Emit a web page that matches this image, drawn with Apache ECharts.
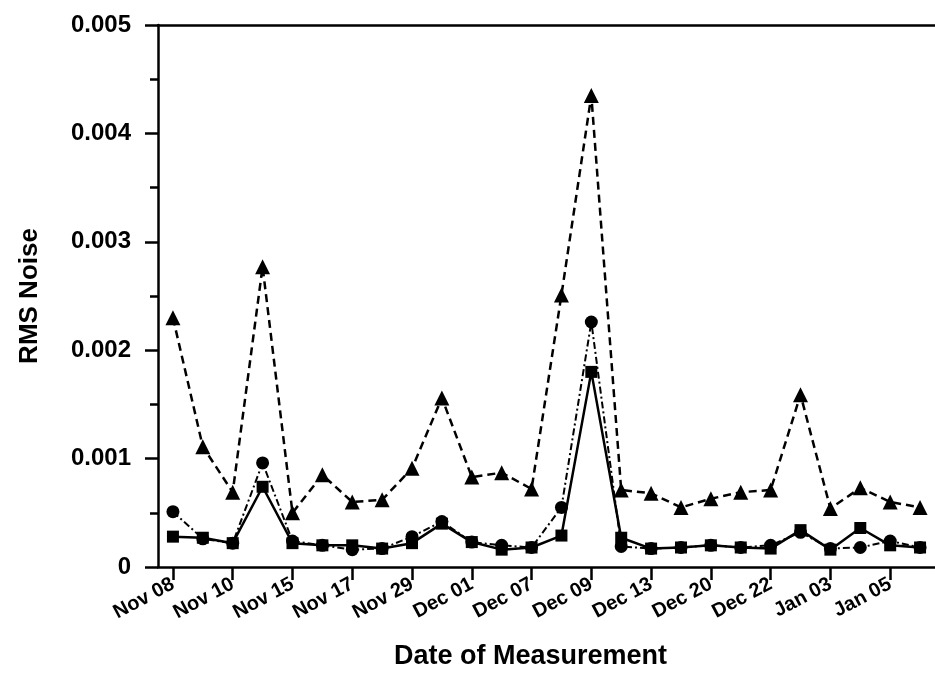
<!DOCTYPE html>
<html>
<head>
<meta charset="utf-8">
<script src="https://cdn.jsdelivr.net/npm/echarts@6/dist/echarts.min.js"></script>
<style>
  html, body { margin: 0; padding: 0; background: #fff; }
  #chart { width: 935px; height: 691px; }
</style>
</head>
<body>
<div id="chart"></div>
<script>
const categories = ['Nov 08','','Nov 10','','Nov 15','','Nov 17','','Nov 29','','Dec 01','','Dec 07','','Dec 09','','Dec 13','','Dec 20','','Dec 22','','Jan 03','','Jan 05',''];
const triangleSeries = [0.00230,0.00111,0.00069,0.00277,0.00050,0.00085,0.00060,0.00062,0.00091,0.00156,0.00083,0.00087,0.00072,0.00251,0.00435,0.00071,0.00068,0.00055,0.00063,0.00069,0.00071,0.00159,0.00054,0.00073,0.00060,0.00055];
const circleSeries = [0.00051,0.00026,0.00022,0.00096,0.00024,0.00020,0.00016,0.00017,0.00028,0.00042,0.00023,0.00020,0.00018,0.00055,0.00226,0.00019,0.00017,0.00018,0.00020,0.00018,0.00020,0.00032,0.00017,0.00018,0.00024,0.00018];
const squareSeries = [0.00028,0.00027,0.00022,0.00074,0.00022,0.00020,0.00020,0.00017,0.00022,0.00040,0.00023,0.00016,0.00018,0.00029,0.00180,0.00027,0.00017,0.00018,0.00020,0.00018,0.00017,0.00034,0.00016,0.00036,0.00020,0.00018];
const yTicks = [0, 0.001, 0.002, 0.003, 0.004, 0.005];

const FONT = 'Liberation Sans';
const chart = echarts.init(document.getElementById('chart'), null, { renderer: 'canvas' });
chart.setOption({
  backgroundColor: '#ffffff',
  animation: false,
  grid: { left: 158, right: 0, top: 25, bottom: 124, containLabel: false },
  xAxis: [{
    type: 'category',
    data: categories,
    boundaryGap: true,
    name: 'Date of Measurement',
    nameLocation: 'middle',
    nameGap: 76,
    nameTextStyle: { fontFamily: FONT, fontWeight: 'bold', fontSize: 27, color: '#000', padding: [0, 32, 0, 0] },
    axisLine: { lineStyle: { color: '#000', width: 2.5 } },
    axisTick: { show: true, interval: 1, alignWithLabel: true, length: 13, lineStyle: { color: '#000', width: 2.5 } },
    axisLabel: { interval: 1, rotate: 28, margin: 16, fontFamily: FONT, fontWeight: 'bold', fontSize: 20, color: '#000' },
    splitLine: { show: false }
  }, {
    type: 'category',
    data: categories,
    position: 'top',
    axisLine: { lineStyle: { color: '#000', width: 2.5 } },
    axisTick: { show: false },
    axisLabel: { show: false }
  }],
  yAxis: {
    type: 'value',
    min: yTicks[0],
    max: yTicks[yTicks.length - 1],
    interval: 0.001,
    name: 'RMS Noise',
    nameLocation: 'middle',
    nameGap: 115,
    nameTextStyle: { fontFamily: FONT, fontWeight: 'bold', fontSize: 26, color: '#000' },
    axisLine: { show: true, lineStyle: { color: '#000', width: 2.5 } },
    axisTick: { show: true, length: 13, lineStyle: { color: '#000', width: 2.5 } },
    minorTick: { show: true, splitNumber: 2, length: 8, lineStyle: { color: '#000', width: 2.5 } },
    axisLabel: {
      margin: 27, fontFamily: FONT, fontWeight: 'bold', fontSize: 24, color: '#000',
      formatter: v => (v === 0 ? '0' : v.toFixed(3))
    },
    splitLine: { show: false }
  },
  series: [{
    name: 'triangle',
    type: 'line',
    data: triangleSeries,
    symbol: 'triangle',
    symbolSize: 15,
    itemStyle: { color: '#000' },
    lineStyle: { color: '#000', width: 2.5, type: [8, 5] },
    z: 2
  }, {
    name: 'circle',
    type: 'line',
    data: circleSeries,
    symbol: 'circle',
    symbolSize: 13,
    itemStyle: { color: '#000' },
    lineStyle: { color: '#000', width: 2, type: [7, 3, 2, 3] },
    z: 3
  }, {
    name: 'square',
    type: 'line',
    data: squareSeries,
    symbol: 'rect',
    symbolSize: 12,
    itemStyle: { color: '#000' },
    lineStyle: { color: '#000', width: 2.5, type: 'solid' },
    z: 4
  }]
});
</script>
</body>
</html>
